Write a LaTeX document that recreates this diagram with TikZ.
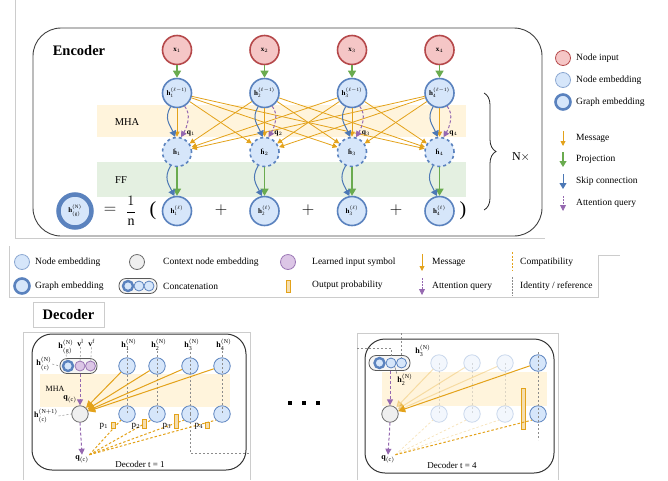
\documentclass[tikz,border=0pt]{standalone}
\usepackage{fontspec}
\setmainfont{Liberation Serif}
\usetikzlibrary{arrows.meta,decorations.pathreplacing,calc}
\definecolor{inpF}{HTML}{F5C6C6}
\definecolor{inpB}{HTML}{B5484A}
\definecolor{embF}{HTML}{D6E6FA}
\definecolor{embB}{HTML}{5A82BE}
\definecolor{ctxF}{HTML}{EFEFEF}
\definecolor{ctxB}{HTML}{6A6A6A}
\definecolor{purF}{HTML}{DCC6E6}
\definecolor{purB}{HTML}{9B77B5}
\definecolor{mhaF}{HTML}{FFF4DC}
\definecolor{ffF}{HTML}{E4F0E1}
\definecolor{orng}{HTML}{E3A21A}
\definecolor{grn}{HTML}{6AAB4F}
\definecolor{blu}{HTML}{4C78B5}
\definecolor{prp}{HTML}{9568B0}
\definecolor{frm}{HTML}{CCCCCC}
\newcommand\hv[2]{\textbf{h}$^{\mathrm{#1}}_{\mathrm{#2}}$}
\tikzset{
 inp/.style={circle,draw=inpB,fill=inpF,line width=1.6pt,minimum size=29pt,inner sep=0pt,font=\fontsize{7}{8}\selectfont},
 emb/.style={circle,draw=embB,fill=embF,line width=1.6pt,minimum size=29pt,inner sep=0pt,font=\fontsize{7}{8}\selectfont},
 gemb/.style={circle,draw=embB,fill=embF,line width=4.5pt,minimum size=33pt,inner sep=0pt,font=\fontsize{7}{8}\selectfont},
 dnode/.style={circle,draw=embB,fill=embF,line width=0.8pt,minimum size=16.5pt,inner sep=0pt},
 cnode/.style={circle,draw=ctxB,fill=ctxF,line width=0.8pt,minimum size=16.5pt,inner sep=0pt},
 pnode/.style={circle,draw=purB,fill=purF,line width=0.8pt,minimum size=10pt,inner sep=0pt},
 snode/.style={circle,draw=embB,fill=embF,line width=0.8pt,minimum size=10pt,inner sep=0pt},
 sgnode/.style={circle,draw=embB,fill=embF,line width=2.4pt,minimum size=10pt,inner sep=0pt},
 pill/.style={draw=black!65,fill=black!4,rounded corners=7pt,line width=0.8pt,minimum height=15pt,inner sep=0pt},
 msg/.style={draw=orng,line width=0.8pt,-{Triangle[width=5pt,length=5pt]}},
 msgd/.style={draw=orng,line width=1pt,-{Triangle[width=7pt,length=7pt]}},
 proj/.style={draw=grn,line width=1.3pt,-{Triangle[width=8pt,length=7pt]}},
 skipc/.style={draw=blu,line width=1pt,-{Triangle[width=7pt,length=6pt]}},
 attq/.style={draw=prp,line width=1pt,dash pattern=on 3pt off 2pt,-{Triangle[width=6pt,length=6pt]}},
 compat/.style={draw=orng,line width=1pt,dash pattern=on 2.5pt off 2pt},
 ident/.style={draw=black!45,line width=0.7pt,dash pattern=on 2pt off 2pt},
 lbl/.style={font=\fontsize{9.5}{11}\selectfont,anchor=west,inner sep=0pt},
 dl/.style={font=\fontsize{8}{9}\selectfont,inner sep=0.5pt},
 prob/.style={draw=orng,fill=orng!35,line width=0.6pt},
 faded/.style={opacity=0.3},
}
\begin{document}
\begin{tikzpicture}[x=1pt,y=-1pt]
\useasboundingbox (0,0) rectangle (668,480);
% light frames
\draw[frm,line width=0.7pt] (15,0) -- (15,238) -- (545,238);
\draw[frm,line width=0.7pt] (9,246) -- (9,297) -- (598,297) -- (598,255) -- (620,255);
% ===== Encoder =====
\draw[black!75,line width=0.9pt,rounded corners=28pt] (33,28) rectangle (542,236);
\node[font=\fontsize{14.5}{16}\selectfont\bfseries] (enc) at (79,51) {Encoder};
\fill[mhaF] (97,105) rectangle (466,137);
\fill[ffF] (97,162) rectangle (466,197);
\node[font=\fontsize{10.5}{12}\selectfont] (mha) at (127,122) {MHA};
\node[font=\fontsize{10.5}{12}\selectfont] (ff) at (121,180) {FF};
\foreach \i/\X in {1/177,2/264.5,3/352,4/439.5}{
  \node[inp] (x\i) at (\X,50) {\textbf{x}$_{\i}$};
  \node[emb] (hp\i) at (\X,93) {\hv{(\ell-1)}{\i}};
  \node[emb,dashed] (hh\i) at (\X,152) {$\hat{\textbf{h}}_{\i}$};
  \node[emb] (hl\i) at (\X,211) {\hv{(\ell)}{\i}};
  \node[font=\fontsize{7.5}{8}\selectfont] (q\i) at (\X+14,133) {\textbf{q}$_{\i}$};
}
\foreach \j in {1,...,4}{
  \foreach \i in {1,...,4}{
    \ifnum\i=\j\relax\else
      \draw[msg] (hp\j) -- (hh\i);
    \fi
  }
}
\foreach \i in {1,...,4}{
  \draw[proj] (x\i) -- (hp\i);
  \draw[msg] (hp\i.south) -- (hh\i.north);
  \draw[skipc] (hp\i.245) .. controls +(-7,12) and +(-5,-12) .. (hh\i.97);
  \draw[attq] (hp\i.300) .. controls +(7,8) and +(6,-10) .. (hh\i.75);
  \draw[proj] (hh\i) -- (hl\i);
  \draw[skipc] (hh\i.245) .. controls +(-7,12) and +(-6,-12) .. (hl\i.100);
}
\node[gemb] (hg) at (75,211) {\hv{(N)}{(g)}};
\node[font=\fontsize{16}{18}\selectfont] (eq) at (110,210) {$=$};
\node[font=\fontsize{14}{16}\selectfont] (frac) at (131,211) {$\displaystyle\frac{1}{\mathrm{n}}$};
\node[font=\fontsize{20}{22}\selectfont] (lp) at (153,211) {(};
\node[font=\fontsize{20}{22}\selectfont] (rp) at (463,211) {)};
\foreach \p in {221,308,396}{
  \node[font=\fontsize{16}{18}\selectfont] at (\p,210) {$+$};
}
\coordinate (bt) at (484,93);
\coordinate (bb) at (484,210);
\draw[black!85,line width=0.8pt,decorate,decoration={brace,amplitude=12pt}] (bt) -- (bb);
\node[font=\fontsize{12}{14}\selectfont] (nx) at (521,157) {N$\times$};
% right legend
\node[circle,draw=inpB,fill=inpF,line width=0.8pt,minimum size=15pt,inner sep=0pt] (lg1) at (563,58) {};
\node[circle,draw=embB!70,fill=embF,line width=0.8pt,minimum size=15pt,inner sep=0pt] (lg2) at (563,80) {};
\node[circle,draw=embB,fill=embF,line width=2.6pt,minimum size=15pt,inner sep=0pt] (lg3) at (563,102) {};
\node[lbl] at (576,58) {Node input};
\node[lbl] at (576,80) {Node embedding};
\node[lbl] at (576,102) {Graph embedding};
\coordinate (m1a) at (563,131); \coordinate (m1b) at (563,146);
\coordinate (m2a) at (563,152); \coordinate (m2b) at (563,167);
\coordinate (m3a) at (563,174); \coordinate (m3b) at (563,189);
\coordinate (m4a) at (563,196); \coordinate (m4b) at (563,211);
\draw[msg,line width=0.9pt] (m1a) -- (m1b);
\draw[proj,line width=1.1pt,-{Triangle[width=7pt,length=6pt]}] (m2a) -- (m2b);
\draw[skipc] (m3a) -- (m3b);
\draw[attq,line width=0.8pt,dash pattern=on 1.5pt off 1.5pt] (m4a) -- (m4b);
\node[lbl] at (576,138) {Message};
\node[lbl] at (576,159) {Projection};
\node[lbl] at (576,181) {Skip connection};
\node[lbl] at (576,203) {Attention query};
% ===== middle legend =====
\node[circle,draw=embB!70,fill=embF,line width=0.8pt,minimum size=15pt,inner sep=0pt] (ml1) at (22,262) {};
\node[lbl] at (35,262) {Node embedding};
\node[circle,draw=embB,fill=embF,line width=2.6pt,minimum size=15pt,inner sep=0pt] (ml2) at (22,286) {};
\node[lbl] at (35,286) {Graph embedding};
\node[circle,draw=ctxB,fill=ctxF,line width=0.8pt,minimum size=15pt,inner sep=0pt] (ml3) at (137,262) {};
\node[lbl] at (163,262) {Context node embedding};
\node[pill,minimum width=38pt] (ml4) at (138,286) {};
\node[sgnode] (ml4a) at (128,286) {};
\node[snode] (ml4b) at (139,286) {};
\node[snode] (ml4c) at (149,286) {};
\node[lbl] at (163,286) {Concatenation};
\node[circle,draw=purB,fill=purF,line width=0.8pt,minimum size=15pt,inner sep=0pt] (ml5) at (288,262) {};
\node[lbl] at (312,262) {Learned input symbol};
\draw[prob] (286.5,280) rectangle (290,292);
\node[lbl] at (312,285) {Output probability};
\coordinate (ma1) at (422,254); \coordinate (ma2) at (422,271);
\coordinate (ma3) at (422,278); \coordinate (ma4) at (422,295);
\draw[msg,line width=0.9pt] (ma1) -- (ma2);
\draw[attq,line width=0.8pt,dash pattern=on 1.5pt off 1.5pt] (ma3) -- (ma4);
\node[lbl] at (432,262) {Message};
\node[lbl] at (432,286) {Attention query};
\coordinate (mc1) at (512,252); \coordinate (mc2) at (512,271);
\coordinate (mc3) at (512,277); \coordinate (mc4) at (512,296);
\draw[compat,line width=0.8pt,dash pattern=on 2pt off 1.5pt] (mc1) -- (mc2);
\draw[ident,dash pattern=on 1.5pt off 1.5pt] (mc3) -- (mc4);
\node[lbl] at (520,262) {Compatibility};
\node[lbl] at (520,286) {Identity / reference};
% ===== Decoder title =====
\node[draw=frm,line width=0.7pt,minimum width=71pt,minimum height=25pt,font=\fontsize{14.5}{16}\selectfont\bfseries] (dec) at (68.5,314.5) {Decoder};
% ===== left decoder =====
\draw[frm,line width=0.7pt] (23,480) -- (23,332) -- (250,332) -- (250,480);
\draw[black!80,line width=1pt,rounded corners=20pt] (32,334) rectangle (246,470);
\fill[mhaF] (40,374) rectangle (230,407);
\node[font=\fontsize{8}{9}\selectfont] (mhaL) at (55,389) {MHA};
\foreach \k/\X in {1/127,2/157,3/190,4/222}{
  \node[dl] (lab\k) at (\X+2,345) {\hv{(N)}{\k}};
  \node[dnode] (tL\k) at (\X,366) {};
  \node[dnode] (bL\k) at (\X,414) {};
  \draw[ident] (lab\k.south -| tL\k) -- (bL\k.center);
}
\coordinate (rt3) at (190,453);
\coordinate (rt3b) at (250,453);
\draw[ident] (bL3.center) -- (rt3) -- (rt3b);
\node[pill,minimum width=37pt] (pL) at (78.5,366) {};
\node[sgnode] (gL) at (68,366) {};
\node[pnode] (vlL) at (80,366) {};
\node[pnode] (vfL) at (90.5,366) {};
\node[dl] (lgL) at (66,347) {\hv{(N)}{(g)}};
\node[dl] (lvl) at (80.5,343) {\textbf{v}$^{\mathrm{l}}$};
\node[dl] (lvf) at (91.5,343) {\textbf{v}$^{\mathrm{f}}$};
\draw[ident,line width=0.5pt] (lgL.south) -- (gL);
\draw[ident,line width=0.5pt] (lvl.south) -- (vlL);
\draw[ident,line width=0.5pt] (lvf.south) -- (vfL);
\node[dl] (hcL) at (44,364) {\hv{(N)}{(c)}};
\draw[ident,line width=0.5pt] (hcL.east) -- (pL.west);
\node[cnode] (cL) at (80,414) {};
\node[dl] (hc1L) at (46,416) {\hv{(N+1)}{(c)}};
\draw[ident,line width=0.5pt] (hc1L.east) -- (cL.west);
\node[dl] (qcL1) at (70,399) {\textbf{q}$_{\mathrm{(c)}}$};
\draw[attq] (pL.south -| cL) -- (cL.north);
\foreach \k in {1,...,4}{ \draw[msgd] (tL\k) -- (cL); }
\node[dl] (qcL2) at (82,459) {\textbf{q}$_{\mathrm{(c)}}$};
\draw[attq] (cL.south) -- (qcL2.north);
\foreach \k in {1,...,4}{ \draw[compat] (qcL2.north east) -- (bL\k.225); }
\node[dl,font=\fontsize{9}{10}\selectfont] (p1) at (104,426) {p$_1$};
\node[dl,font=\fontsize{9}{10}\selectfont] (p2) at (136,426) {p$_2$};
\node[dl,font=\fontsize{9}{10}\selectfont] (p3) at (167,426) {p$_3$};
\node[dl,font=\fontsize{9}{10}\selectfont] (p4) at (199,426) {p$_4$};
\draw[prob] (111,422) rectangle (115,428);
\draw[prob] (142,419) rectangle (146,428);
\draw[prob] (174,414) rectangle (178,428);
\draw[prob] (205,422) rectangle (209,428);
\node[font=\fontsize{9}{10}\selectfont] (tl1) at (140,464) {Decoder t = 1};
% dots
\foreach \d in {290,304,318}{ \fill (\d-1.6,401.4) rectangle (\d+1.6,404.6); }
% ===== right decoder =====
\draw[frm,line width=0.7pt] (357,480) -- (357,333) -- (558,333) -- (558,480);
\draw[black!80,line width=1pt,rounded corners=20pt] (365,339) rectangle (554,473);
\fill[mhaF] (382,372) rectangle (547,406);
\foreach \k/\X in {1/439,2/472,3/505}{
  \node[dnode,faded] (tR\k) at (\X,363) {};
  \node[dnode,faded] (bR\k) at (\X,414) {};
  \draw[ident,faded] (tR\k.center) -- (bR\k.center);
}
\node[dnode] (tR4) at (538,363) {};
\node[dnode] (bR4) at (538,414) {};
\coordinate (r4top) at (538,352);
\coordinate (r4bot) at (538,440);
\draw[ident] (r4top) -- (r4bot);
\node[pill,minimum width=41pt] (pR) at (389.5,363) {};
\node[sgnode] (gR) at (379.5,363) {};
\node[snode] (s2R) at (391,363) {};
\node[snode] (s3R) at (401.5,363) {};
\coordinate (idA) at (357,348);
\coordinate (idB) at (391,348);
\coordinate (idC) at (401.5,333);
\draw[ident] (idA) -- (idB) -- (s2R.north);
\draw[ident] (idC) -- (s3R.north);
\node[dl] (l3R) at (423,351) {\hv{(N)}{3}};
\node[dl] (l2R) at (405,380) {\hv{(N)}{2}};
\draw[black!60,line width=0.4pt] (s2R.south east) -- (l2R.north west);
\node[cnode] (cR) at (390,414) {};
\draw[attq] (pR.south -| cR) -- (cR.north);
\foreach \k in {1,2,3}{ \draw[msgd,faded] (tR\k) -- (cR); }
\draw[msgd] (tR4) -- (cR);
\draw[prob] (521,388) rectangle (525,429);
\node[dl] (qcR) at (388,459) {\textbf{q}$_{\mathrm{(c)}}$};
\draw[attq] (cR.south) -- (qcR.north);
\foreach \k in {1,2,3}{ \draw[compat,faded,line width=0.7pt] (qcR.north east) -- (bR\k.225); }
\draw[compat] (qcR.north east) -- (bR4.225);
\node[font=\fontsize{9}{10}\selectfont] (tl4) at (452,465) {Decoder t = 4};
\end{tikzpicture}
\end{document}
